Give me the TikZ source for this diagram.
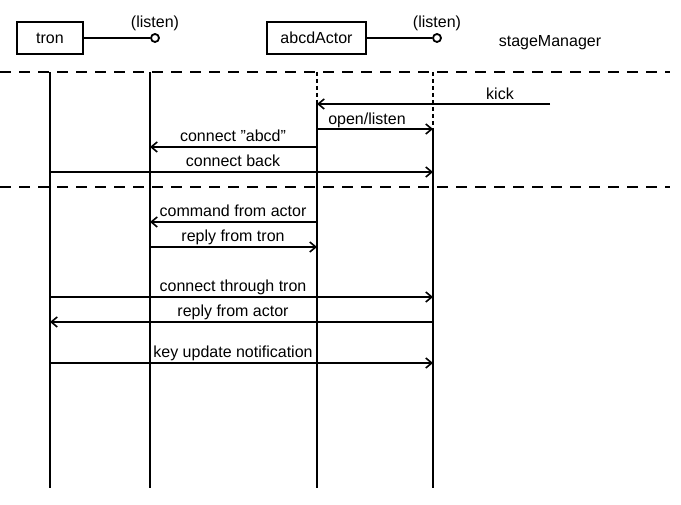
\documentclass[tikz,border=0pt]{standalone}
\usepackage{fontspec}
\setmainfont{Liberation Sans}
\usetikzlibrary{arrows.meta}
\begin{document}
\begin{tikzpicture}[x=1pt,y=-1pt,
  every node/.style={font=\fontsize{16}{18}\selectfont, inner sep=0pt},
  ln/.style={line width=1.8pt},
  msg/.style={line width=1.8pt, -{Straight Barb[length=6pt,width=10pt,line width=1.6pt]}},
  sep/.style={line width=1.8pt, dash pattern=on 11pt off 8pt},
  dot/.style={line width=1.8pt, dash pattern=on 4pt off 3pt},
  obj/.style={draw, line width=1.8pt, minimum width=66pt, minimum height=32pt},
  lbl/.style={anchor=base}]
\useasboundingbox (0,0) rectangle (681,505);
% header
\node[obj] (tron) at (50,38) {tron};
\node[obj, minimum width=99pt] (actor) at (316.5,38) {abcdActor};
\node[circle, draw, line width=1.8pt, minimum size=8pt] (tl) at (155,38) {};
\node[circle, draw, line width=1.8pt, minimum size=8pt] (al) at (437,38) {};
\draw[ln] (tron.east) -- (tl.west);
\draw[ln] (actor.east) -- (al.west);
\node[lbl] (tlt) at (155,28) {(listen)};
\node[lbl] (alt) at (437,28) {(listen)};
\node[lbl] (sm) at (550,47) {stageManager};
% separators
\coordinate (s1a) at (0,72); \coordinate (s1b) at (670,72);
\coordinate (s2a) at (0,187); \coordinate (s2b) at (670,187);
\draw[sep] (s1a) -- (s1b);
\draw[sep] (s2a) -- (s2b);
% lifelines
\coordinate (L1t) at (50,72); \coordinate (L1b) at (50,488);
\coordinate (L2t) at (150,72); \coordinate (L2b) at (150,488);
\coordinate (L3t) at (317,72); \coordinate (L3m) at (317,104); \coordinate (L3b) at (317,488);
\coordinate (L4t) at (433,72); \coordinate (L4m) at (433,129); \coordinate (L4b) at (433,488);
\draw[ln] (L1t) -- (L1b);
\draw[ln] (L2t) -- (L2b);
\draw[dot] (L3t) -- (L3m);
\draw[ln] (L3m) -- (L3b);
\draw[dot] (L4t) -- (L4m);
\draw[ln] (L4m) -- (L4b);
% messages
\coordinate (k0) at (550,104);
\draw[msg] (k0) -- (L3m) ;
\node[lbl] at (500,100) {kick};
\coordinate (o0) at (317,129);
\draw[msg] (o0) -- (L4m);
\node[lbl] at (367,125) {open/listen};
\coordinate (c0) at (317,147); \coordinate (c1) at (150,147);
\draw[msg] (c0) -- (c1);
\node[lbl] at (233,142) {connect \symbol{34}abcd\symbol{34}};
\coordinate (b0) at (50,172); \coordinate (b1) at (433,172);
\draw[msg] (b0) -- (b1);
\node[lbl] at (233,167) {connect back};
\coordinate (m0) at (317,222); \coordinate (m1) at (150,222);
\draw[msg] (m0) -- (m1);
\node[lbl] at (233,217) {command from actor};
\coordinate (r0) at (150,247); \coordinate (r1) at (317,247);
\draw[msg] (r0) -- (r1);
\node[lbl] at (233,242) {reply from tron};
\coordinate (t0) at (50,297); \coordinate (t1) at (433,297);
\draw[msg] (t0) -- (t1);
\node[lbl] at (233,292) {connect through tron};
\coordinate (a0) at (433,322); \coordinate (a1) at (50,322);
\draw[msg] (a0) -- (a1);
\node[lbl] at (233,317) {reply from actor};
\coordinate (n0) at (50,363); \coordinate (n1) at (433,363);
\draw[msg] (n0) -- (n1);
\node[lbl] at (233,358) {key update notification};
\end{tikzpicture}
\end{document}
